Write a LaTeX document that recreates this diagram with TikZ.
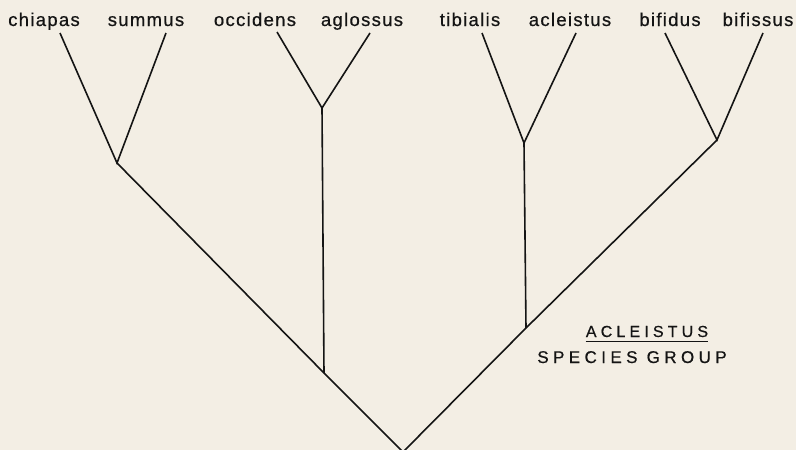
\documentclass[tikz,border=0pt]{standalone}
\usepackage{fontspec}
\setmainfont{Liberation Sans}
\usepackage{tikz}
\usetikzlibrary{positioning, calc}
\definecolor{mydark}{RGB}{20,20,20}
\definecolor{mypaper}{RGB}{243,238,228}
\newfontfamily\taxonfont[LetterSpace=7, FakeBold=0.6]{Liberation Sans}
\newfontfamily\groupfont[LetterSpace=26, FakeBold=0.6]{Liberation Sans}
\tikzset{
  taxon/.style={anchor=base, inner sep=0pt, text=mydark,
    font=\taxonfont\fontsize{18.5}{20}\selectfont},
  grouplabel/.style={anchor=base, inner sep=0pt, text=mydark,
    font=\groupfont\fontsize{16}{18}\selectfont},
  branch/.style={line width=1.6pt, color=mydark}
}

\begin{document}
\begin{tikzpicture}[x=1pt, y=-1pt]
  % Paper
  \fill[mypaper] (0,0) rectangle (796,450);
  \useasboundingbox (0,0) rectangle (796,450);

  % Species names
  \node[taxon] (s1) at (44,26) {chiapas};
  \node[taxon] (s2) at (146,26) {summus};
  \node[taxon] (s3) at (255,26) {occidens};
  \node[taxon] (s4) at (362,26) {aglossus};
  \node[taxon] (s5) at (470,26) {tibialis};
  \node[taxon] (s6) at (570,26) {acleistus};
  \node[taxon] (s7) at (670,26) {bifidus};
  \node[taxon] (s8) at (758,26) {bifissus};

  % Branch tips
  \coordinate (t1) at (60,33);
  \coordinate (t2) at (166,33);
  \coordinate (t3) at (277,32);
  \coordinate (t4) at (370,33);
  \coordinate (t5) at (482,33);
  \coordinate (t6) at (576,33);
  \coordinate (t7) at (665,33);
  \coordinate (t8) at (763,33);

  % Forks
  \coordinate (f1) at (117,163);
  \coordinate (f2) at (322,108);
  \coordinate (f3) at (524,143);
  \coordinate (f4) at (717,140);
  \coordinate (m1) at (324,373);
  \coordinate (m2) at (526,328);
  \coordinate (root) at (403,452);

  % Pairs
  \draw[branch] (t1) -- (f1) -- (t2);
  \draw[branch] (t3) -- (f2) -- (t4);
  \draw[branch] (t5) -- (f3) -- (t6);
  \draw[branch] (t7) -- (f4) -- (t8);

  % Stems
  \draw[branch] (f1) -- (m1) -- (root) -- (m2) -- (f4);
  \draw[branch] (f2) -- (m1);
  \draw[branch] (f3) -- (m2);

  % Group label
  \node[grouplabel] (g1) at (647,337) {ACLEISTUS};
  \node[grouplabel, font=\groupfont\fontsize{17}{18}\selectfont] (g2) at (632,363) {SPECIES GROUP};
  \draw[line width=1.2pt, color=mydark] ([yshift=-4pt]g1.south west) -- ([yshift=-4pt]g1.south east);
\end{tikzpicture}
\end{document}
